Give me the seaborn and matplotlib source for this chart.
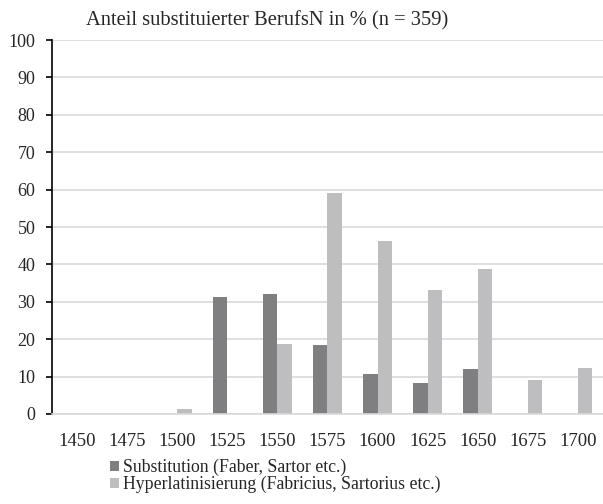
import matplotlib
matplotlib.use("Agg")
import matplotlib.pyplot as plt
import seaborn as sns
import pandas as pd

years = ["1450", "1475", "1500", "1525", "1550", "1575", "1600", "1625", "1650", "1675", "1700"]
substitution = [0, 0, 0, 31.2, 32.2, 18.5, 10.6, 8.2, 12.1, 0, 0]
hyperlatin = [0, 0, 1.2, 0, 18.7, 59.1, 46.3, 33.2, 38.9, 9.0, 12.4]
series_names = ["Substitution (Faber, Sartor etc.)", "Hyperlatinisierung (Fabricius, Sartorius etc.)"]
colors = ["#7e7e82", "#bebec0"]

df = pd.DataFrame({
    "year": years * 2,
    "value": substitution + hyperlatin,
    "series": [series_names[0]] * len(years) + [series_names[1]] * len(years),
})

sns.set_style("white")
plt.rcParams["font.family"] = ["Liberation Serif", "DejaVu Serif"]

fig = plt.figure(figsize=(6.03, 5.04), dpi=100)
ax = fig.add_axes([0.0862, 0.1786, 0.9138, 0.7420])

sns.barplot(data=df, x="year", y="value", hue="series", palette=colors,
            width=0.58, linewidth=0, ax=ax, legend=True)

ax.set_ylim(0, 100)
ax.set_yticks(range(0, 101, 10))
ax.set_xlim(-0.5, len(years) - 0.5)
ax.yaxis.grid(True, color="#d9d9d9", linewidth=1.2)
ax.set_axisbelow(True)
ax.set_xlabel("")
ax.set_ylabel("")
for s in ["top", "right"]:
    ax.spines[s].set_visible(False)
ax.spines["left"].set_color("black")
ax.spines["left"].set_linewidth(1.2)
ax.spines["bottom"].set_color("#d9d9d9")
ax.spines["bottom"].set_linewidth(1.2)
ax.tick_params(axis="y", left=True, length=4, width=1.2, color="black", labelsize=13, pad=8)
ax.tick_params(axis="x", bottom=False, labelsize=13.5, pad=10)

fig.suptitle("Anteil substituierter BerufsN in % (n = 359)", x=0.443, y=0.978, fontsize=14.8)

leg = ax.legend(loc="upper left", bbox_to_anchor=(0.105, -0.12), frameon=False,
                fontsize=12.8, handlelength=0.5, handleheight=0.5, handletextpad=0.25,
                labelspacing=0.0, borderpad=0, borderaxespad=0)

fig.savefig("out.png", dpi=100)
